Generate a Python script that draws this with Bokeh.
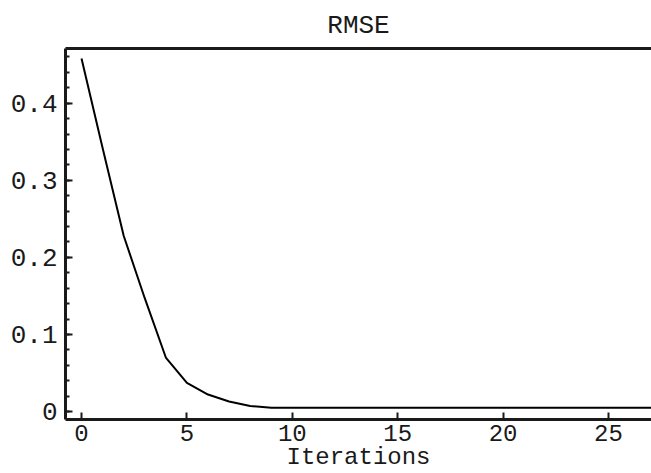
from bokeh.plotting import figure
from bokeh.models import LinearAxis, Range1d, CustomJSTickFormatter, FixedTicker
from bokeh.embed import file_html
from bokeh.resources import INLINE

iterations = list(range(0, 29))
rmse = [0.458, 0.342, 0.228, 0.147, 0.070, 0.037, 0.022, 0.013, 0.007, 0.005] + [0.005] * 19
x_ticks = [0, 5, 10, 15, 20, 25]
y_ticks = [0, 0.1, 0.2, 0.3, 0.4]

FONT = "Liberation Mono"
INK = "#1a1a1a"

p = figure(width=651, height=473, output_backend="svg", toolbar_location=None,
           x_range=Range1d(-0.76, 27.04), y_range=Range1d(-0.0104, 0.471),
           title="RMSE", x_axis_label="Iterations",
           min_border_left=65, min_border_right=0, min_border_top=10, min_border_bottom=10)
p.outline_line_color = None
p.background_fill_color = "white"
p.border_fill_color = "white"
p.xgrid.visible = False
p.ygrid.visible = False

p.title.align = "center"
p.title.text_font = FONT
p.title.text_font_size = "26px"
p.title.text_font_style = "normal"
p.title.text_color = INK
p.title.standoff = 16

p.line(iterations, rmse, line_color="black", line_width=2)

for ax in (p.xaxis[0], p.yaxis[0]):
    ax.axis_line_width = 3
    ax.axis_line_color = INK
    ax.major_tick_line_color = INK
    ax.major_tick_line_width = 2
    ax.major_tick_in = 7
    ax.major_tick_out = 0
    ax.minor_tick_line_color = INK
    ax.minor_tick_line_width = 2
    ax.minor_tick_in = 4
    ax.minor_tick_out = 0
    ax.major_label_text_font = FONT
    ax.major_label_text_font_size = "26px"
    ax.major_label_text_color = INK

xa = p.xaxis[0]
xa.ticker = FixedTicker(ticks=x_ticks)
xa.minor_tick_line_color = None
xa.major_label_text_font_size = "24px"
xa.major_label_standoff = 5
xa.axis_label_text_font = FONT
xa.axis_label_text_font_size = "24px"
xa.axis_label_text_font_style = "normal"
xa.axis_label_text_color = INK
xa.axis_label_standoff = 0

ya = p.yaxis[0]
ya.ticker = FixedTicker(ticks=y_ticks, minor_ticks=[round(0.02 * i, 2) for i in range(0, 24)])
ya.major_label_standoff = 8
ya.formatter = CustomJSTickFormatter(code="return tick == 0 ? '0' : tick.toFixed(1);")

top = LinearAxis(axis_line_width=3, axis_line_color=INK,
                 major_tick_line_color=None, minor_tick_line_color=None,
                 major_tick_in=0, major_tick_out=0, minor_tick_in=0, minor_tick_out=0,
                 major_label_text_font_size="0px", major_label_standoff=0,
                 ticker=FixedTicker(ticks=[]))
p.add_layout(top, "above")

open("out.html", "w").write(file_html(p, INLINE))
